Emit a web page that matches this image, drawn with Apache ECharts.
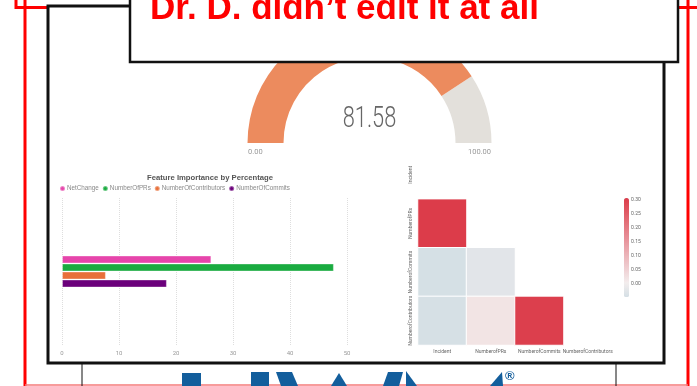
<!DOCTYPE html>
<html>
<head>
<meta charset="utf-8">
<script src="https://cdn.jsdelivr.net/npm/echarts@6/dist/echarts.min.js"></script>
<style>
  html, body { margin: 0; padding: 0; background: #fff; }
  #chart { width: 697px; height: 386px; }
</style>
</head>
<body>
<div id="chart"></div>
<script>
// Gauge: overall score
const gaugeValue = 81.58;
const gaugeMin = 0;
const gaugeMax = 100;

// Feature importance (percent)
const featureNames = ['NetChange', 'NumberOfPRs', 'NumberOfContributors', 'NumberOfCommits'];
const featureValues = [26.2, 47.7, 7.7, 18.4];
const featureColors = ['#e645ab', '#1aab40', '#e8703a', '#6b007b'];
const featureAxisMax = 50;

// Correlation heatmap (lower triangle only): [col, row, value]
const heatLabels = ['Incident', 'NumberofPRs', 'NumberofCommits', 'NumberofContributors'];
const corrCells = [
  [0, 1, 0.305],
  [0, 2, -0.044],
  [1, 2, -0.023],
  [0, 3, -0.043],
  [1, 3, 0.02],
  [2, 3, 0.30]
];
const corrMin = -0.046;
const corrMax = 0.305;
const colorbarTicks = [0, 0.05, 0.10, 0.15, 0.20, 0.25, 0.30];

const chart = echarts.init(document.getElementById('chart'), null, { renderer: 'canvas' });

const barSeries = featureNames.map((name, i) => ({
  name: name,
  type: 'bar',
  xAxisIndex: 0,
  yAxisIndex: 0,
  data: [featureValues[i]],
  barWidth: 8,
  barGap: '0%',
  itemStyle: { color: featureColors[i], borderColor: 'rgba(255,255,255,0.35)', borderWidth: 1 }
}));

const logoBlue = '#135e9c';
const frameZ = 100;

const option = {
  animation: false,
  backgroundColor: '#ffffff',
  textStyle: { fontFamily: 'Roboto, "Noto Sans", sans-serif' },
  title: {
    text: 'Feature Importance by Percentage',
    left: 205,
    top: 169,
    textAlign: 'center',
    textStyle: { fontSize: 7.7, fontWeight: 'bold', color: '#555', fontFamily: '"Liberation Sans", sans-serif' }
  },
  legend: {
    data: featureNames,
    left: 59,
    top: 185,
    icon: 'circle',
    itemWidth: 5,
    itemHeight: 5,
    itemGap: 3,
    padding: 0,
    textStyle: { fontSize: 6.3, color: '#888', padding: [0, 0, 0, -3], fontFamily: '"Liberation Sans", sans-serif' }
  },
  grid: [
    { left: 62, top: 198, width: 285, height: 147 },
    { left: 418, top: 150.5, width: 194, height: 194.5 },
    { left: 624, top: 198, width: 5, height: 99 }
  ],
  xAxis: [
    {
      gridIndex: 0, type: 'value', min: 0, max: featureAxisMax, interval: 10,
      axisLine: { show: false }, axisTick: { show: false },
      axisLabel: { fontSize: 6, color: '#999', margin: 5 },
      splitLine: { show: true, lineStyle: { type: 'dotted', color: '#dedede' } }
    },
    {
      gridIndex: 1, type: 'category', data: heatLabels,
      axisLine: { show: false }, axisTick: { show: false },
      axisLabel: { fontSize: 5, color: '#666', margin: 4, interval: 0 },
      splitLine: { show: false }
    },
    { gridIndex: 2, type: 'value', show: false }
  ],
  yAxis: [
    {
      gridIndex: 0, type: 'category', data: ['Importance'],
      axisLine: { show: false }, axisTick: { show: false }, axisLabel: { show: false }
    },
    {
      gridIndex: 1, type: 'category', data: heatLabels, inverse: true,
      axisLine: { show: false }, axisTick: { show: false },
      axisLabel: { fontSize: 5, color: '#666', margin: 5, rotate: 90, interval: 0 },
      splitLine: { show: false }
    },
    {
      gridIndex: 2, type: 'value', min: corrMin, max: corrMax, position: 'right',
      axisLine: { show: false },
      axisTick: { show: true, length: 2, lineStyle: { color: '#999', width: 0.6 }, customValues: colorbarTicks },
      axisLabel: { fontSize: 5, color: '#666', margin: 2, customValues: colorbarTicks, formatter: v => v.toFixed(2) },
      splitLine: { show: false }
    }
  ],
  visualMap: {
    type: 'continuous',
    seriesIndex: featureNames.length + 1,
    min: corrMin,
    max: corrMax,
    calculable: false,
    left: 624,
    top: 198,
    itemWidth: 5,
    itemHeight: 99,
    padding: 0,
    inRange: { color: ['#d4dfe5', '#f3eded', '#efcfd2', '#ebb2b7', '#e8949c', '#e47780', '#e05a65', '#dc3c4a'] }
  },
  series: [
    {
      type: 'gauge',
      center: [369.5, 143],
      radius: 122,
      startAngle: 180,
      endAngle: 0,
      min: gaugeMin,
      max: gaugeMax,
      pointer: { show: false },
      axisTick: { show: false },
      splitLine: { show: false },
      axisLabel: { show: false },
      title: { show: false },
      detail: { show: false },
      axisLine: {
        lineStyle: {
          width: 36,
          color: [[(gaugeValue - gaugeMin) / (gaugeMax - gaugeMin), '#ec8b5e'], [1, '#e3e0db']]
        }
      },
      data: [{ value: gaugeValue }]
    },
    ...barSeries,
    {
      type: 'heatmap',
      xAxisIndex: 1,
      yAxisIndex: 1,
      data: corrCells,
      itemStyle: { borderColor: '#ffffff', borderWidth: 1 }
    }
  ],
  graphic: [
    // gauge value and range labels
    {
      type: 'text', z: 10, x: 369.5, y: 120, scaleX: 0.75,
      style: { text: gaugeValue.toFixed(2), font: '300 29px Roboto', fill: '#666', align: 'center', verticalAlign: 'middle' }
    },
    {
      type: 'text', z: 10, x: 248, y: 152,
      style: { text: gaugeMin.toFixed(2), font: '7.5px Roboto', fill: '#999', align: 'left', verticalAlign: 'middle' }
    },
    {
      type: 'text', z: 10, x: 491, y: 152,
      style: { text: gaugeMax.toFixed(2), font: '7.5px Roboto', fill: '#999', align: 'right', verticalAlign: 'middle' }
    },
    // red outer frame
    { type: 'line', z: frameZ, shape: { x1: 25, y1: 0, x2: 25, y2: 386 }, style: { stroke: '#ff0000', lineWidth: 3 } },
    { type: 'line', z: frameZ, shape: { x1: 688, y1: 0, x2: 688, y2: 386 }, style: { stroke: '#ff0000', lineWidth: 3 } },
    { type: 'line', z: frameZ, shape: { x1: 25, y1: 385, x2: 688, y2: 385 }, style: { stroke: '#f47a7a', lineWidth: 1.5 } },
    { type: 'polyline', z: frameZ, shape: { points: [[16, 0], [16, 7.5], [47, 7.5]] }, style: { stroke: '#ff0000', lineWidth: 3, fill: null } },
    { type: 'line', z: frameZ, shape: { x1: 678, y1: 7.5, x2: 697, y2: 7.5 }, style: { stroke: '#ff0000', lineWidth: 3 } },
    // dashboard frame
    { type: 'rect', z: frameZ, shape: { x: 48, y: 6, width: 616, height: 357 }, style: { stroke: '#111', lineWidth: 3, fill: null } },
    { type: 'line', z: frameZ, shape: { x1: 82, y1: 364, x2: 82, y2: 386 }, style: { stroke: '#111', lineWidth: 1 } },
    { type: 'line', z: frameZ, shape: { x1: 616, y1: 364, x2: 616, y2: 386 }, style: { stroke: '#111', lineWidth: 1 } },
    // logo fragments
    { type: 'rect', z: frameZ, shape: { x: 182, y: 373, width: 19, height: 14 }, style: { fill: logoBlue } },
    { type: 'rect', z: frameZ, shape: { x: 251, y: 372, width: 18, height: 15 }, style: { fill: logoBlue } },
    { type: 'polygon', z: frameZ, shape: { points: [[276, 372], [292, 372], [298, 386], [281, 386]] }, style: { fill: logoBlue } },
    { type: 'polygon', z: frameZ, shape: { points: [[339, 373], [347, 386], [331, 386]] }, style: { fill: logoBlue } },
    { type: 'polygon', z: frameZ, shape: { points: [[388, 372], [403, 372], [399, 386], [383, 386]] }, style: { fill: logoBlue } },
    { type: 'polygon', z: frameZ, shape: { points: [[406, 371], [417, 386], [406, 386]] }, style: { fill: logoBlue } },
    { type: 'polygon', z: frameZ, shape: { points: [[502, 372], [503, 386], [490, 386]] }, style: { fill: logoBlue } },
    { type: 'text', z: frameZ, x: 505, y: 376, style: { text: '®', font: 'bold 13px "Liberation Sans"', fill: logoBlue, verticalAlign: 'middle' } },
    // callout box
    { type: 'rect', z: frameZ + 1, shape: { x: 130, y: -5, width: 548, height: 67 }, style: { stroke: '#111', lineWidth: 2.5, fill: '#ffffff' } },
    { type: 'text', z: frameZ + 2, x: 150, y: 9, style: { text: 'Dr. D. didn\u2019t edit it at all', font: 'bold 35px "Liberation Sans"', fill: '#ff0000', verticalAlign: 'middle' } }
  ]
};

chart.setOption(option);
</script>
</body>
</html>
